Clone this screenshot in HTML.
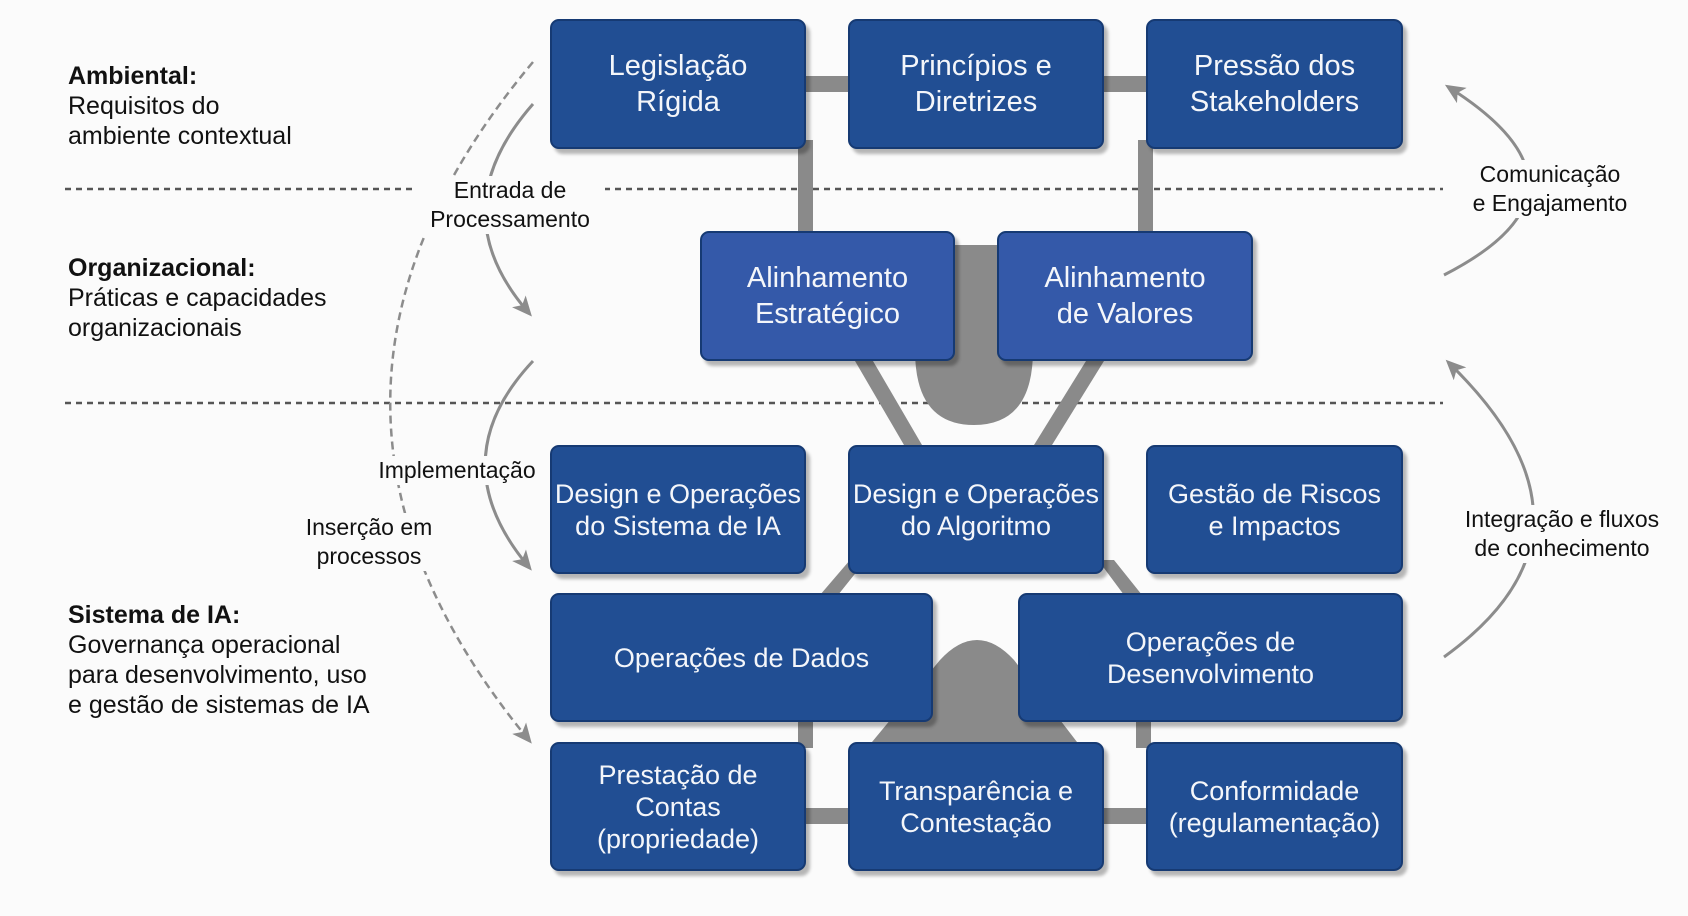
<!DOCTYPE html>
<html><head><meta charset="utf-8"><style>
body{margin:0;background:#fafafa;}
#c{position:relative;width:1688px;height:916px;overflow:hidden;font-family:"Liberation Sans",sans-serif;background:#fbfbfb;}
.b{position:absolute;background:#214e93;border:2px solid #163a73;border-radius:9px;box-shadow:4px 5px 3px rgba(0,0,0,0.28);color:#f4f6fa;display:flex;align-items:center;justify-content:center;text-align:center;box-sizing:border-box;font-size:27px;line-height:32px;}
.b.big{font-size:29px;line-height:36px;}
.b.lt{background:#3459a9;}
.t{position:absolute;color:#111;font-size:25px;line-height:30px;}
.l{position:absolute;color:#111;font-size:23px;line-height:29px;text-align:center;background:#fbfbfb;}
svg{position:absolute;left:0;top:0;}
</style></head><body><div id="c">
<svg width="1688" height="916" viewBox="0 0 1688 916">
<defs><marker id="a" markerWidth="10" markerHeight="10" refX="6" refY="5" orient="auto" markerUnits="userSpaceOnUse" viewBox="0 0 10 10"><path d="M0,0 L10,5 L0,10 z" fill="#8c8c8c"/></marker>
<marker id="ab" markerWidth="22" markerHeight="22" refX="14" refY="11" orient="auto" markerUnits="userSpaceOnUse" viewBox="0 0 22 22"><path d="M0,2 L20,11 L0,20 L5,11 z" fill="#8c8c8c"/></marker></defs>
<g stroke="#555" stroke-width="2.5" stroke-dasharray="6,5"><line x1="65" y1="189" x2="1443" y2="189"/><line x1="65" y1="403" x2="1443" y2="403"/></g>
<g fill="#8a8a8a" stroke="none">
<rect x="800" y="76" width="60" height="16"/><rect x="1098" y="76" width="60" height="16"/>
<rect x="798" y="140" width="15" height="100"/><rect x="1138" y="140" width="15" height="100"/>
<path d="M915,245 L1033,245 L1033,350 Q1033,425 974,425 Q915,425 915,350 z"/>
<polygon points="855,361 873,361 922,445 904,445"/><polygon points="1086,361 1104,361 1052,445 1034,445"/>
<polygon points="850,560 866,560 838,595 820,595"/><polygon points="1098,560 1114,560 1142,595 1124,595"/>
<path d="M872,742 L940,660 Q977,620 1014,660 L1077,742 z"/>
<rect x="798" y="718" width="15" height="30"/><rect x="1136" y="718" width="15" height="30"/>
<rect x="800" y="808" width="60" height="16"/><rect x="1098" y="808" width="60" height="16"/>
</g>
<g fill="none" stroke="#8c8c8c" stroke-width="3">
<path d="M533,104 Q440,210 528,312" marker-end="url(#ab)"/>
<path d="M533,361 Q440,460 528,566" marker-end="url(#ab)"/>
<path d="M1444,275 Q1610,190 1450,88" marker-end="url(#ab)"/>
<path d="M1444,657 Q1620,530 1450,364" marker-end="url(#ab)"/>
<path d="M533,62 Q250,400 528,739" stroke-dasharray="8,5" stroke-width="2.5" marker-end="url(#ab)"/>
</g>
</svg>
<div class="b big" style="left:550px;top:19px;width:256px;height:130px">Legislação<br>Rígida</div>
<div class="b big" style="left:848px;top:19px;width:256px;height:130px">Princípios e<br>Diretrizes</div>
<div class="b big" style="left:1146px;top:19px;width:257px;height:130px">Pressão dos<br>Stakeholders</div>
<div class="b big lt" style="left:700px;top:231px;width:255px;height:130px">Alinhamento<br>Estratégico</div>
<div class="b big lt" style="left:997px;top:231px;width:256px;height:130px">Alinhamento<br>de Valores</div>
<div class="b" style="left:550px;top:445px;width:256px;height:129px">Design e Operações<br>do Sistema de IA</div>
<div class="b" style="left:848px;top:445px;width:256px;height:129px">Design e Operações<br>do Algoritmo</div>
<div class="b" style="left:1146px;top:445px;width:257px;height:129px">Gestão de Riscos<br>e Impactos</div>
<div class="b" style="left:550px;top:593px;width:383px;height:129px">Operações de Dados</div>
<div class="b" style="left:1018px;top:593px;width:385px;height:129px">Operações de Desenvolvimento</div>
<div class="b" style="left:550px;top:742px;width:256px;height:129px">Prestação de<br>Contas (propriedade)</div>
<div class="b" style="left:848px;top:742px;width:256px;height:129px">Transparência e<br>Contestação</div>
<div class="b" style="left:1146px;top:742px;width:257px;height:129px">Conformidade<br>(regulamentação)</div>
<div class="t" style="left:68px;top:61px"><b>Ambiental:</b><br>Requisitos do<br>ambiente contextual</div>
<div class="t" style="left:68px;top:253px"><b>Organizacional:</b><br>Práticas e capacidades<br>organizacionais</div>
<div class="t" style="left:68px;top:600px"><b>Sistema de IA:</b><br>Governança operacional<br>para desenvolvimento, uso<br>e gestão de sistemas de IA</div>
<div class="l" style="left:415px;top:176px;width:190px">Entrada de<br>Processamento</div>
<div class="l" style="left:377px;top:456px;width:160px">Implementação</div>
<div class="l" style="left:289px;top:513px;width:160px">Inserção em<br>processos</div>
<div class="l" style="left:1455px;top:160px;width:190px">Comunicação<br>e Engajamento</div>
<div class="l" style="left:1451px;top:505px;width:222px">Integração e fluxos<br>de conhecimento</div>
</div></body></html>
